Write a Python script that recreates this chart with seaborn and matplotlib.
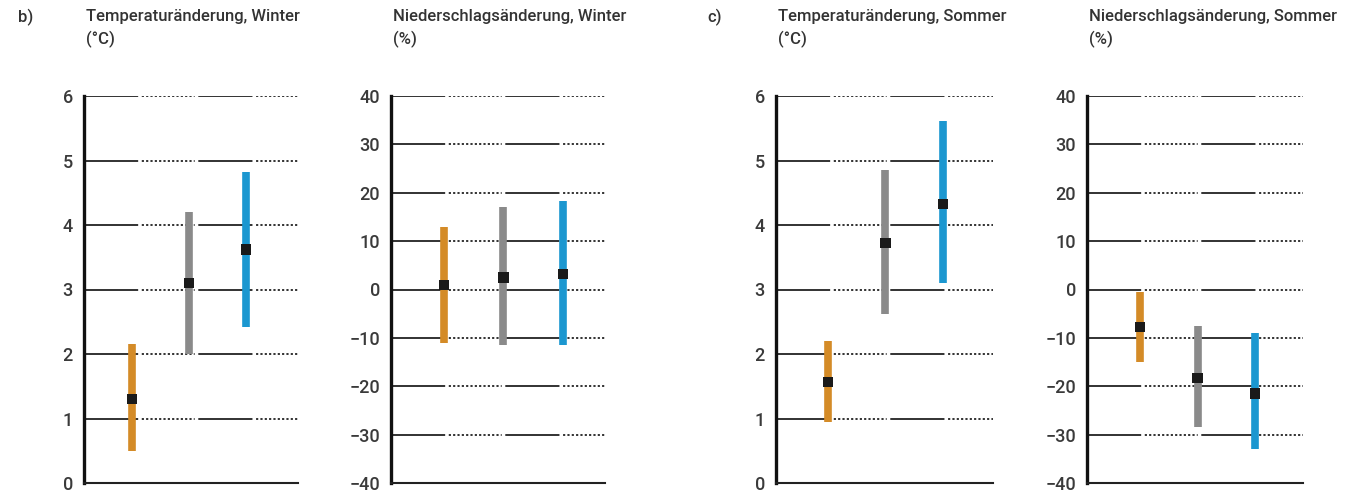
import numpy as np
import pandas as pd
import matplotlib
matplotlib.use("Agg")
import matplotlib.pyplot as plt
import seaborn as sns

# ranges (low, median, high) for the three model groups in each panel
groups = ["A", "B", "C"]
colors = ["#D48B27", "#8A8A8A", "#1B97D0"]

temp_winter_low = [0.5, 2.0, 2.42]
temp_winter_med = [1.3, 3.1, 3.62]
temp_winter_high = [2.15, 4.2, 4.82]

prec_winter_low = [-11.0, -11.5, -11.5]
prec_winter_med = [1.0, 2.5, 3.2]
prec_winter_high = [13.0, 17.0, 18.2]

temp_summer_low = [0.95, 2.62, 3.1]
temp_summer_med = [1.57, 3.72, 4.33]
temp_summer_high = [2.2, 4.85, 5.62]

prec_summer_low = [-15.0, -28.5, -33.0]
prec_summer_med = [-7.7, -18.3, -21.5]
prec_summer_high = [-0.5, -7.5, -9.0]

titles = ["Temperaturänderung, Winter\n(°C)",
          "Niederschlagsänderung, Winter\n(%)",
          "Temperaturänderung, Sommer\n(°C)",
          "Niederschlagsänderung, Sommer\n(%)"]

sns.set_style("white")
plt.rcParams['font.family'] = ['Roboto', 'DejaVu Sans']

fig = plt.figure(figsize=(13.48, 4.92), dpi=100)

# left, width in pixels, and x-limits for each panel
boxes = [(84, 214), (391, 214), (776, 217), (1087, 216)]
xlims = [(-0.84, 2.91), (-0.89, 2.71), (-0.90, 2.87), (-0.92, 2.83)]
top_px, bot_px = 96, 483

panels = [
    (temp_winter_low, temp_winter_med, temp_winter_high, (0, 6), [0, 1, 2, 3, 4, 5, 6]),
    (prec_winter_low, prec_winter_med, prec_winter_high, (-40, 40), [-40, -30, -20, -10, 0, 10, 20, 30, 40]),
    (temp_summer_low, temp_summer_med, temp_summer_high, (0, 6), [0, 1, 2, 3, 4, 5, 6]),
    (prec_summer_low, prec_summer_med, prec_summer_high, (-40, 40), [-40, -30, -20, -10, 0, 10, 20, 30, 40]),
]

# solid piece followed by a row of dots, like the scanned grid lines
dash = [30, 2] + [1.2, 1.2] * 12 + [0.5, 2]
grid_ls = (0, tuple(dash))

for i, (lo, med, hi, ylim, ticks) in enumerate(panels):
    left, width = boxes[i]
    ax = fig.add_axes([left / 1348, (492 - bot_px) / 492, width / 1348, (bot_px - top_px) / 492])
    df = pd.DataFrame({"x": [0, 1, 2], "low": lo, "med": med, "high": hi, "grp": groups})
    for j, row in df.iterrows():
        ax.vlines(row["x"], row["low"], row["high"], color=colors[j], lw=5.5, zorder=3)
    sns.scatterplot(data=df, x="x", y="med", marker="s", s=55, color="#1a1a1a",
                    edgecolor="none", ax=ax, zorder=4, legend=False)
    ax.set_xlim(*xlims[i])
    ax.set_ylim(*ylim)
    ax.set_yticks(ticks)
    ax.set_yticklabels([str(t).replace("-", "\u2212") for t in ticks])
    ax.set_xticks([])
    ax.set_xlabel("")
    ax.set_ylabel("")
    for t in ticks[1:]:
        ax.axhline(t, color="#222222", lw=1.3, linestyle=grid_ls, zorder=1)
    ax.tick_params(axis="y", length=0, pad=8, labelsize=13, labelcolor="#3a3a3a")
    for lab in ax.get_yticklabels():
        lab.set_fontweight("medium")
    ax.spines["top"].set_visible(False)
    ax.spines["right"].set_visible(False)
    ax.spines["left"].set_linewidth(2.4)
    ax.spines["left"].set_color("#111111")
    ax.spines["bottom"].set_linewidth(1.5)
    ax.spines["bottom"].set_color("#222222")
    ax.set_facecolor("none")
    fig.text((left + 2) / 1348, 1 - 9 / 492, titles[i], ha="left", va="top",
             fontsize=12, color="#333333", linespacing=1.55, fontweight="medium")

fig.text(18 / 1348, 1 - 9 / 492, "b)", ha="left", va="top", fontsize=12,
         color="#333333", fontweight="medium")
fig.text(707 / 1348, 1 - 9 / 492, "c)", ha="left", va="top", fontsize=12,
         color="#333333", fontweight="medium")

fig.savefig("out.png", dpi=100)
